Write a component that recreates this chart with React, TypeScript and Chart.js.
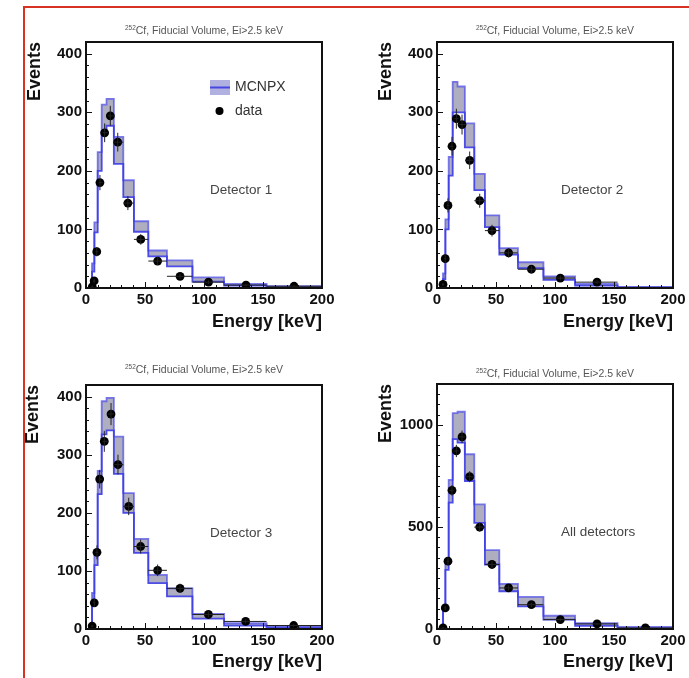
import React, { useEffect, useRef } from "react";
import { Chart, registerables } from "chart.js";

Chart.register(...registerables);

// MCNPX histogram bin edges (keV)
const binEdges = [3.5, 5.1, 7.1, 9.9, 13.3, 17.4, 23.6, 31.6, 40.6, 52.8, 68.6, 90.2, 117, 153, 200];
// data bin edges (keV) used for horizontal error bars
const dataEdges = [4.4, 6.0, 8.0, 10.6, 14.0, 18.4, 24.0, 31.6, 40.6, 52.8, 68.6, 90.2, 117, 153, 200];

// tick labels
const xTickVals = [0, 50, 100, 150, 200];
const yTickVals = [0, 100, 200, 300, 400];
const yTickValsAll = [0, 500, 1000];

// Detector 1
const mc1Low = [1, 28, 95, 200, 268, 277, 212, 155, 96, 54, 37, 11, 4, 1];
const mc1High = [5, 42, 112, 232, 313, 323, 258, 184, 114, 64, 47, 18, 7, 3];
const data1E = [5.3, 6.9, 9.1, 11.8, 15.8, 20.6, 26.9, 35.5, 46.4, 60.7, 79.7, 103.8, 135.6, 176.3];
const data1Y = [2, 12, 62, 180, 265, 294, 249, 145, 83, 46, 20, 10, 5, 3];
const data1Err = [2, 4, 8, 13, 16, 17, 16, 12, 9, 7, 4.5, 3, 2.2, 1.7];

// Detector 2
const mc2Low = [0, 15, 100, 192, 300, 300, 240, 167, 104, 57, 34, 14, 4, 0.5];
const mc2High = [2, 25, 117, 224, 352, 344, 281, 195, 124, 68, 44, 20, 7, 2];
const data2E = [5.1, 7.0, 9.3, 12.7, 16.4, 21.2, 27.7, 36.2, 46.6, 60.7, 80.0, 104.5, 135.6];
const data2Y = [6, 50, 141, 242, 289, 279, 218, 149, 98, 60, 32, 17, 10];
const data2Err = [2.5, 7, 12, 16, 17, 17, 15, 12, 10, 8, 6, 4, 3];

// Detector 3
const mc3Low = [2, 45, 110, 232, 335, 342, 267, 200, 131, 79, 56, 18, 6, 2];
const mc3High = [6, 62, 130, 272, 392, 398, 331, 234, 155, 93, 70, 26, 10, 5];
const data3E = [5.2, 7.0, 9.3, 11.6, 15.5, 21.2, 27.1, 36.2, 46.3, 60.7, 79.7, 103.7, 135.3, 176.0];
const data3Y = [5, 45, 132, 258, 323, 370, 283, 211, 142, 101, 70, 25, 13, 6];
const data3Err = [2, 7, 12, 16, 18, 19, 17, 15, 12, 10, 8, 5, 3.6, 2.5];

// All detectors
const mc4Low = [2, 95, 290, 619, 930, 913, 725, 520, 316, 185, 111, 46, 16, 3];
const mc4High = [8, 111, 332, 730, 1057, 1064, 856, 610, 386, 221, 157, 65, 29, 10];
const data4E = [5.1, 7.0, 9.3, 12.7, 16.4, 21.2, 27.7, 36.2, 46.6, 60.7, 80.0, 104.5, 135.6, 176.6];
const data4Y = [5, 103, 332, 679, 872, 941, 746, 499, 316, 201, 119, 46, 25, 5];
const data4Err = [3, 10, 18, 26, 30, 31, 27, 22, 18, 14, 11, 7, 5, 2.5];

const FONT = "'Liberation Sans', Arial, Helvetica, sans-serif";

type PanelCfg = {
  left: number; top: number; w: number; h: number;
  padTop: number; padRight: number; yAxisW: number; xAxisH: number;
  yMax: number; yTicks: number[]; yMinor: number;
  yTitlePad: number; xTitlePad: number;
  titleY: number; label: string; labelX: number; labelY: number;
  legend: boolean;
  mcLow: number[]; mcHigh: number[];
  dE: number[]; dY: number[]; dErr: number[];
};

const panels: PanelCfg[] = [
  { left: 0, top: 0, w: 344, h: 340, padTop: 42, padRight: 22, yAxisW: 86, xAxisH: 52,
    yMax: 420, yTicks: yTickVals, yMinor: 20, yTitlePad: 24, xTitlePad: 7.5,
    titleY: 30, label: "Detector 1", labelX: 210, labelY: 190, legend: true,
    mcLow: mc1Low, mcHigh: mc1High, dE: data1E, dY: data1Y, dErr: data1Err },
  { left: 350, top: 0, w: 339, h: 340, padTop: 42, padRight: 16, yAxisW: 87, xAxisH: 52,
    yMax: 420, yTicks: yTickVals, yMinor: 20, yTitlePad: 25, xTitlePad: 7.5,
    titleY: 30, label: "Detector 2", labelX: 211, labelY: 190, legend: false,
    mcLow: mc2Low, mcHigh: mc2High, dE: data2E, dY: data2Y, dErr: data2Err },
  { left: 0, top: 340, w: 344, h: 338, padTop: 45, padRight: 22, yAxisW: 86, xAxisH: 49,
    yMax: 420, yTicks: yTickVals, yMinor: 20, yTitlePad: 22.5, xTitlePad: 5.5,
    titleY: 29, label: "Detector 3", labelX: 210, labelY: 193, legend: false,
    mcLow: mc3Low, mcHigh: mc3High, dE: data3E, dY: data3Y, dErr: data3Err },
  { left: 350, top: 340, w: 339, h: 338, padTop: 44, padRight: 16, yAxisW: 87, xAxisH: 49,
    yMax: 1200, yTicks: yTickValsAll, yMinor: 50, yTitlePad: 25, xTitlePad: 5.5,
    titleY: 33, label: "All detectors", labelX: 211, labelY: 192, legend: false,
    mcLow: mc4Low, mcHigh: mc4High, dE: data4E, dY: data4Y, dErr: data4Err },
];

function stepPoints(vals: number[]) {
  const pts = [{ x: binEdges[0], y: 0 }];
  vals.forEach((v, i) => pts.push({ x: binEdges[i], y: v }));
  pts.push({ x: binEdges[binEdges.length - 1], y: vals[vals.length - 1] });
  return pts;
}

function Panel({ cfg }: { cfg: PanelCfg }) {
  const ref = useRef<HTMLCanvasElement>(null);
  useEffect(() => {
    const c = cfg;
    const majorStep = c.yTicks[1] - c.yTicks[0];
    const decor = {
      id: "decor",
      afterDatasetsDraw(chart: any) {
        const { ctx, chartArea, scales } = chart;
        const xs = scales.x, ys = scales.y;
        ctx.save();
        ctx.beginPath();
        ctx.rect(chartArea.left, chartArea.top, chartArea.right - chartArea.left, chartArea.bottom - chartArea.top);
        ctx.clip();
        ctx.strokeStyle = "#222";
        ctx.lineWidth = 1;
        c.dE.forEach((e, i) => {
          const px = xs.getPixelForValue(e);
          const py = ys.getPixelForValue(c.dY[i]);
          ctx.beginPath();
          ctx.moveTo(xs.getPixelForValue(dataEdges[i]), py);
          ctx.lineTo(xs.getPixelForValue(dataEdges[i + 1]), py);
          ctx.moveTo(px, ys.getPixelForValue(c.dY[i] - c.dErr[i]));
          ctx.lineTo(px, ys.getPixelForValue(c.dY[i] + c.dErr[i]));
          ctx.stroke();
        });
        ctx.restore();
      },
      afterDraw(chart: any) {
        const { ctx, chartArea, scales } = chart;
        const xs = scales.x, ys = scales.y;
        const { left, right, top, bottom } = chartArea;
        ctx.save();
        // ticks (ROOT style, inward)
        ctx.strokeStyle = "#111";
        ctx.lineWidth = 1;
        ctx.beginPath();
        for (let v = 0; v <= c.yMax + 1e-6; v += c.yMinor) {
          const py = Math.round(ys.getPixelForValue(v)) + 0.5;
          const len = Math.abs(v % majorStep) < 1e-6 ? 6 : 3;
          ctx.moveTo(left, py);
          ctx.lineTo(left + len, py);
        }
        for (let v = 0; v <= 200 + 1e-6; v += 10) {
          const px = Math.round(xs.getPixelForValue(v)) + 0.5;
          const len = Math.abs(v % 50) < 1e-6 ? 6 : 3;
          ctx.moveTo(px, bottom);
          ctx.lineTo(px, bottom - len);
        }
        ctx.stroke();
        // frame
        ctx.lineWidth = 2;
        ctx.strokeStyle = "#111";
        ctx.strokeRect(left, top, right - left, bottom - top);
        // title
        const sup = "252";
        const main = "Cf, Fiducial Volume, Ei>2.5 keV";
        ctx.fillStyle = "#555";
        ctx.textBaseline = "alphabetic";
        ctx.font = `6.5px ${FONT}`;
        const ws = ctx.measureText(sup).width;
        ctx.font = `10.5px ${FONT}`;
        const wm = ctx.measureText(main).width;
        const cx = (left + right) / 2;
        const x0 = cx - (ws + wm) / 2;
        const base = c.titleY + 3.8;
        ctx.font = `6.5px ${FONT}`;
        ctx.textAlign = "left";
        ctx.fillText(sup, x0, base - 4);
        ctx.font = `10.5px ${FONT}`;
        ctx.fillText(main, x0 + ws, base);
        // panel label
        ctx.fillStyle = "#444";
        ctx.font = `13.5px ${FONT}`;
        ctx.textBaseline = "middle";
        ctx.fillText(c.label, c.labelX, c.labelY);
        // legend
        if (c.legend) {
          ctx.fillStyle = "rgba(150,150,215,0.75)";
          ctx.fillRect(210, 80, 20, 15);
          ctx.strokeStyle = "#4646e0";
          ctx.lineWidth = 2;
          ctx.beginPath();
          ctx.moveTo(210, 87.5);
          ctx.lineTo(230, 87.5);
          ctx.stroke();
          ctx.fillStyle = "#000";
          ctx.beginPath();
          ctx.arc(219.5, 111, 4, 0, Math.PI * 2);
          ctx.fill();
          ctx.fillStyle = "#333";
          ctx.font = `14px ${FONT}`;
          ctx.fillText("MCNPX", 235, 87);
          ctx.fillText("data", 235, 111);
        }
        ctx.restore();
      },
    };

    const chart = new Chart(ref.current as HTMLCanvasElement, {
      type: "scatter",
      data: {
        datasets: [
          {
            type: "line",
            label: "MCNPX upper",
            data: stepPoints(c.mcHigh),
            stepped: true,
            showLine: true,
            borderColor: "rgba(80,80,230,0.75)",
            borderWidth: 1.8,
            pointRadius: 0,
            fill: "+1",
            backgroundColor: "rgba(120,120,150,0.6)",
            order: 3,
          },
          {
            type: "line",
            label: "MCNPX lower",
            data: stepPoints(c.mcLow),
            stepped: true,
            showLine: true,
            borderColor: "rgba(60,60,230,0.9)",
            borderWidth: 1.8,
            pointRadius: 0,
            fill: false,
            order: 2,
          },
          {
            type: "scatter",
            label: "data",
            data: c.dE.map((e, i) => ({ x: e, y: c.dY[i] })),
            pointRadius: 4.4,
            pointBackgroundColor: "#000",
            pointBorderWidth: 0,
            backgroundColor: "#000",
            order: 1,
          },
        ] as any,
      },
      options: {
        responsive: false,
        animation: false,
        devicePixelRatio: 1,
        layout: { padding: { left: 0, top: c.padTop, right: c.padRight, bottom: 0 } },
        plugins: { legend: { display: false }, tooltip: { enabled: false }, title: { display: false } },
        scales: {
          x: {
            type: "linear",
            min: 0,
            max: 200,
            afterBuildTicks: (s: any) => {
              s.ticks = xTickVals.map((v) => ({ value: v }));
            },
            ticks: {
              padding: 3,
              maxRotation: 0,
              autoSkip: false,
              color: "#111",
              font: { family: FONT, size: 15, weight: "bold" },
              callback: (v: any) => String(v),
            },
            grid: { display: false, drawTicks: false },
            border: { display: false },
            title: {
              display: true,
              text: "Energy [keV]",
              align: "end",
              color: "#111",
              font: { family: FONT, size: 18, weight: "bold" },
              padding: { top: 0, bottom: c.xTitlePad },
            },
            afterFit: (s: any) => { s.height = c.xAxisH; },
          },
          y: {
            type: "linear",
            min: 0,
            max: c.yMax,
            afterBuildTicks: (s: any) => {
              s.ticks = c.yTicks.map((v) => ({ value: v }));
            },
            ticks: {
              padding: 4,
              autoSkip: false,
              color: "#111",
              font: { family: FONT, size: 15, weight: "bold" },
              callback: (v: any) => String(v),
            },
            grid: { display: false, drawTicks: false },
            border: { display: false },
            title: {
              display: true,
              text: "Events",
              align: "end",
              color: "#111",
              font: { family: FONT, size: 18, weight: "bold" },
              padding: { top: c.yTitlePad, bottom: 0 },
            },
            afterFit: (s: any) => { s.width = c.yAxisW; },
          },
        },
      } as any,
      plugins: [decor],
    });
    return () => chart.destroy();
  }, [cfg]);
  return (
    <canvas
      ref={ref}
      width={cfg.w}
      height={cfg.h}
      style={{ position: "absolute", left: cfg.left, top: cfg.top, width: cfg.w, height: cfg.h }}
    />
  );
}

export default function App() {
  return (
    <div style={{ position: "absolute", left: 0, top: 0, width: 689, height: 678, background: "#fff", overflow: "hidden" }}>
      {panels.map((p, i) => (
        <Panel key={i} cfg={p} />
      ))}
      <div
        style={{
          position: "absolute",
          left: 23,
          top: 6,
          width: 689 - 23,
          height: 678 - 6,
          borderLeft: "2px solid #d83322",
          borderTop: "2px solid #d83322",
          boxSizing: "border-box",
          pointerEvents: "none",
        }}
      />
    </div>
  );
}
